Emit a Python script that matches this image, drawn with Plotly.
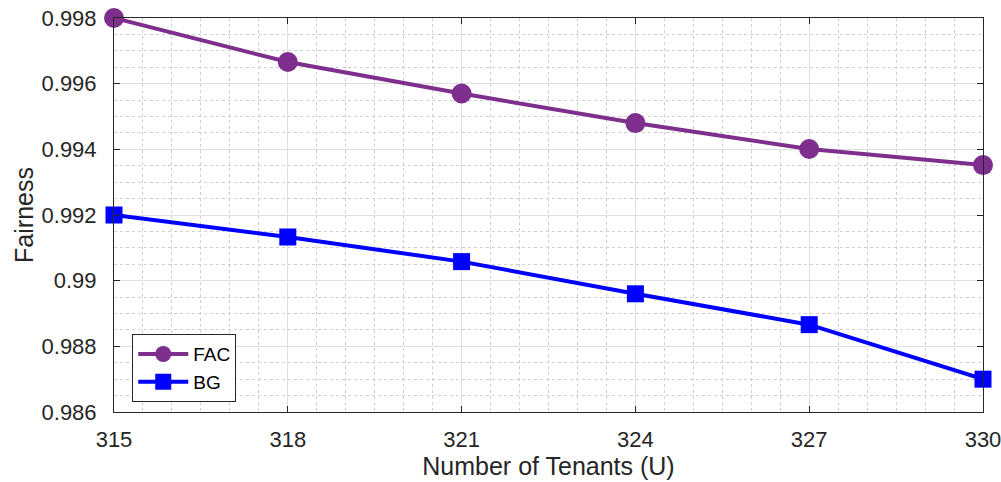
import plotly.graph_objects as go

tenants = [315, 318, 321, 324, 327, 330]
fac = [0.9980, 0.99666, 0.99570, 0.99480, 0.99401, 0.99352]
bg = [0.9920, 0.99133, 0.99058, 0.98960, 0.98866, 0.98700]

y_ticks = [0.986, 0.988, 0.990, 0.992, 0.994, 0.996, 0.998]
y_labels = ["0.986", "0.988", "0.99", "0.992", "0.994", "0.996", "0.998"]

axis_color = "#262626"
font = "Liberation Sans, Arial, Helvetica, sans-serif"

fig = go.Figure()
fig.add_trace(go.Scatter(
    x=tenants, y=fac, name="FAC", mode="lines+markers",
    line=dict(color="#7E2F8E", width=4),
    marker=dict(symbol="circle", size=20, color="#7E2F8E"),
    cliponaxis=False,
))
fig.add_trace(go.Scatter(
    x=tenants, y=bg, name="BG", mode="lines+markers",
    line=dict(color="#0000FF", width=4),
    marker=dict(symbol="square", size=17, color="#0000FF"),
    cliponaxis=False,
))

fig.update_layout(
    width=1001, height=482,
    margin=dict(l=114, r=18, t=18, b=70, autoexpand=False),
    paper_bgcolor="white", plot_bgcolor="white",
    font=dict(family=font, size=22, color=axis_color),
    showlegend=True,
    legend=dict(
        x=0.021, y=0.025, xanchor="left", yanchor="bottom",
        bgcolor="white", bordercolor=axis_color, borderwidth=1,
        font=dict(size=19, color="black"),
        tracegroupgap=0, itemwidth=50,
    ),
)

fig.update_xaxes(
    range=[315, 330], automargin=False,
    tickmode="array", tickvals=tenants, ticktext=[str(t) for t in tenants],
    ticks="inside", ticklen=6, tickcolor=axis_color, tickwidth=1,
    ticklabelstandoff=8, ticklabeloverflow="allow",
    showline=True, linecolor=axis_color, linewidth=1, mirror="allticks",
    showgrid=True, gridcolor="#DFDFDF", gridwidth=1,
    minor=dict(dtick=0.5, showgrid=True, gridcolor="#D0D0D0", griddash="dot", ticks=""),
    zeroline=False,
    title=dict(text="Number of Tenants (U)", font=dict(size=25), standoff=6),
    tickfont=dict(size=22),
)
fig.update_yaxes(
    range=[0.986, 0.998], automargin=False,
    tickmode="array", tickvals=y_ticks, ticktext=y_labels,
    ticks="inside", ticklen=6, tickcolor=axis_color, tickwidth=1,
    ticklabelstandoff=12, ticklabeloverflow="allow",
    showline=True, linecolor=axis_color, linewidth=1, mirror="allticks",
    showgrid=True, gridcolor="#DFDFDF", gridwidth=1,
    minor=dict(dtick=0.0005, showgrid=True, gridcolor="#D0D0D0", griddash="dot", ticks=""),
    zeroline=False,
    title=dict(text="Fairness", font=dict(size=25), standoff=0),
    tickfont=dict(size=22),
)

fig.write_html("out.html")
